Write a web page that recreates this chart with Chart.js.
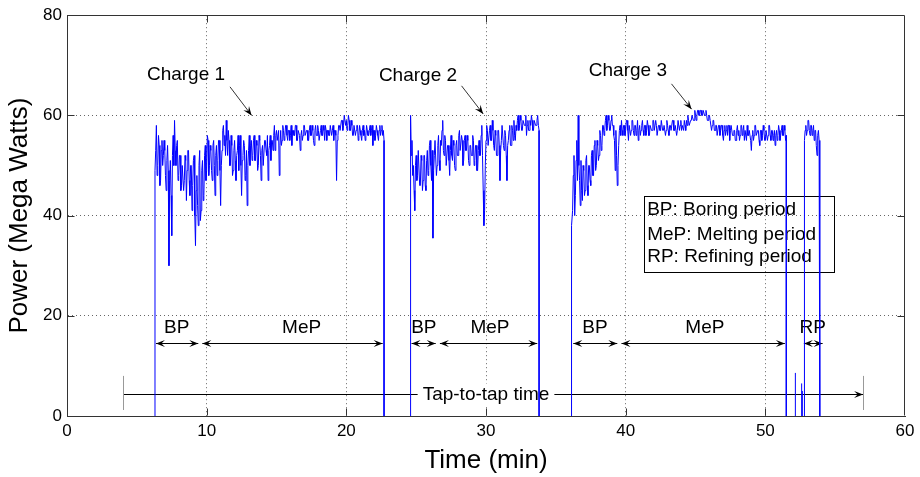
<!DOCTYPE html>
<html>
<head>
<meta charset="utf-8">
<script src="https://cdn.jsdelivr.net/npm/chart.js@4"></script>
<style>
  body { margin: 0; background: #fff; }
  #wrap { width: 920px; height: 477px; }
</style>
</head>
<body>
<div id="wrap"><canvas id="chart"></canvas></div>
<script>
const sampleStep = 0.05;

const charge1Start = 6.3;
const charge1Power = [
  49, 53, 58, 48, 50, 56, 54, 46, 47, 53, 55, 50, 52, 55, 53, 48, 45, 51, 54, 49,
  30, 47, 51, 44, 36, 52, 56, 50, 59, 53, 50, 54, 55, 47, 48, 52, 52, 45, 46, 50,
  50, 45, 47, 52, 51, 43, 49, 53, 53, 47, 44, 50, 50, 41, 46, 51, 52, 40, 34, 45,
  48, 42, 38, 50, 53, 39, 41, 49, 51, 43, 44, 52, 54, 47, 49, 56, 55, 48, 50, 54,
  53, 49, 47, 54, 55, 50, 44, 52, 54, 48, 51, 55, 55, 49, 42, 50, 53, 57, 58, 54,
  56, 52, 59, 55, 52, 57, 55, 50, 50, 56, 54, 48, 49, 53, 55, 51, 47, 52, 53, 56,
  49, 54, 56, 50, 44, 51, 52, 55, 54, 47, 48, 53, 42, 50, 53, 56, 50, 54, 55, 51,
  52, 55, 56, 51, 51, 55, 54, 49, 50, 56, 55, 52, 47, 53, 54, 50, 50, 55, 55, 53,
  52, 56, 47, 53, 54, 56, 51, 55, 55, 53, 56, 58, 53, 56, 57, 55, 55, 57, 48, 54,
  57, 54, 55, 58, 57, 55, 56, 58, 58, 56, 55, 57, 57, 55, 56, 58, 54, 57, 57, 56,
  56, 58, 58, 55, 55, 57, 57, 56, 53, 56, 57, 55, 56, 58, 58, 56, 56, 57, 57, 55,
  55, 57, 58, 56, 56, 58, 57, 55, 54, 57, 58, 56, 56, 58, 57, 55, 55, 57, 58, 56,
  56, 58, 57, 55, 58, 57, 55, 57, 57, 56, 56, 58, 58, 56, 57, 58, 55, 57, 57, 56,
  47, 55, 56, 58, 58, 57, 57, 59, 59, 57, 58, 60, 60, 58, 59, 57, 58, 60, 59, 57,
  57, 59, 58, 56, 56, 58, 58, 56, 57, 58, 58, 55, 56, 58, 57, 56, 55, 57, 58, 56,
  57, 55, 56, 58, 57, 56, 56, 57, 58, 56, 57, 58, 54, 57, 57, 55, 56, 58, 57, 56,
  55, 57, 58, 56, 57, 58, 56, 57, 55,
];

const charge2Start = 24.6;
const charge2Power = [
  60, 52, 55, 48, 50, 45, 41, 50, 52, 47, 48, 53, 53, 46, 46, 52, 51, 45, 47, 52,
  52, 46, 45, 51, 53, 48, 49, 54, 55, 50, 47, 53, 35.5, 49, 52, 55, 55, 48, 50, 54,
  56, 51, 49, 55, 54, 57, 59, 53, 52, 56, 55, 50, 50, 54, 54, 51, 48, 53, 56, 52,
  51, 55, 54, 50, 49, 54, 55, 52, 52, 56, 57, 53, 53, 56, 55, 50, 51, 55, 56, 53,
  53, 56, 55, 51, 50, 54, 54, 52, 52, 56, 55, 50, 51, 54, 54, 49, 49, 53, 55, 52,
  52, 56, 58, 52, 45, 38, 41, 50, 55, 58, 57, 54, 54, 57, 58, 55, 55, 59, 57, 54,
  53, 57, 56, 52, 52, 57, 57, 54, 47, 53, 55, 58, 58, 54, 53, 57, 56, 52, 47, 54,
  55, 57, 58, 54, 54, 58, 57, 55, 59, 56, 55, 58, 57, 59, 60, 57, 58, 60, 59, 57,
  57, 59, 59, 58, 58, 60, 56, 58, 59, 57, 57, 59, 58, 60, 59, 57, 57, 59, 59, 58,
  58, 59, 60, 58, 57,
];

const charge3Start = 36.1;
const charge3Power = [
  29, 38, 41, 48, 52, 40, 44, 51, 55, 47, 60, 50, 47, 42, 51, 45, 43, 50, 49, 44,
  45, 51, 52, 46, 44, 50, 50, 47, 46, 52, 53, 48, 48, 54, 55, 49, 50, 55, 54, 51,
  52, 57, 56, 53, 54, 58, 58, 56, 57, 59, 60, 57, 58, 60, 59, 57, 57, 59, 60, 58,
  58, 56, 55, 49, 57, 52, 46, 50, 54, 57, 58, 56, 59, 57, 56, 58, 58, 56, 57, 59,
  59, 57, 55, 58, 58, 56, 57, 59, 59, 57, 56, 58, 58, 56, 57, 59, 55, 57, 58, 56,
  57, 58, 59, 57, 56, 58, 58, 56, 57, 59, 58, 56, 56, 58, 58, 57, 57, 59, 59, 57,
  57, 59, 58, 56, 56, 58, 58, 57, 57, 59, 59, 57, 57, 58, 58, 56, 57, 59, 58, 57,
  56, 58, 58, 57, 57, 59, 59, 57, 57, 58, 58, 56, 57, 59, 59, 57, 58, 59, 57, 58,
  58, 57, 59, 58, 57, 59, 58, 60, 59, 58, 58, 59, 59, 60, 60, 59, 59, 61, 60, 59,
  60, 61, 61, 60, 60, 61, 61, 60, 60, 61, 61, 60, 60, 61, 60, 59, 59, 60, 60, 59,
  59, 57, 58, 59, 59, 57, 57, 58, 58, 56, 56, 58, 58, 56, 57, 58, 58, 56, 55, 57,
  58, 56, 57, 58, 56, 58, 58, 55, 57, 58, 58, 56, 56, 57, 57, 55, 55, 57, 58, 56,
  57, 55, 56, 58, 58, 56, 57, 58, 55, 57, 57, 55, 58, 56, 56, 57, 57, 55, 53, 56,
  57, 55, 56, 58, 58, 56, 56, 57, 57, 55, 54, 57, 57, 55, 56, 58, 57, 55, 55, 57,
  57, 55, 56, 58, 58, 56, 55, 57, 57, 55, 56, 57, 54, 56, 57, 55, 56, 58, 57, 55,
  56, 57, 58, 56, 56, 58, 57, 55, 56,
];

const charge4Start = 52.8;
const charge4Power = [
  55, 57, 58, 56, 57, 59, 59, 57, 56, 58, 58, 56, 57, 58, 55, 57, 57, 54, 52, 56,
  57, 55, 54,
];

const spikeTimes = [52.15, 52.6, 52.65];
const spikePower = [8.6, 6.5, 5];

const xTicks = [0, 10, 20, 30, 40, 50, 60];
const yTicks = [0, 20, 40, 60, 80];

const chargeLabels = ['Charge 1', 'Charge 2', 'Charge 3'];
const chargeLabelX = [8.52, 25.13, 40.16];
const chargeLabelY = [68.1, 67.9, 68.85];
const chargeArrowFrom = [[11.67, 65.7], [28.25, 65.9], [43.28, 66.3]];
const chargeArrowTo = [[13.22, 60], [29.8, 60.3], [44.72, 61.25]];

const periodLabels = ['BP', 'MeP', 'BP', 'MeP', 'BP', 'MeP', 'RP'];
const periodStart = [6.37, 9.69, 24.67, 26.7, 36.25, 39.7, 52.76];
const periodEnd = [9.4, 22.6, 26.4, 33.67, 39.4, 51.4, 54.1];
const periodLabelX = [7.85, 16.8, 25.55, 30.28, 37.8, 45.67, 53.4];
const periodArrowY = 14.6;
const periodLabelY = 17.7;

const tapLabel = 'Tap-to-tap time';
const tapStart = 4.03;
const tapEnd = 57.0;
const tapY = 4.3;
const tapLabelX = 30.0;
const tapBarLow = 1.2;
const tapBarHigh = 8.0;

const legendLines = ['BP: Boring period', 'MeP: Melting period', 'RP: Refining period'];
const legendLeft = 41.3;
const legendRight = 54.9;
const legendTop = 43.96;
const legendBottom = 28.7;
const legendTextX = 41.54;
const legendTextY = [41.1, 36.2, 31.7];

const FONT = '"Liberation Sans", Arial, Helvetica, sans-serif';

const segment = (start, values) => [
  { x: start, y: 0 },
  ...values.map((v, i) => ({ x: +(start + i * sampleStep).toFixed(2), y: v })),
  { x: +(start + (values.length - 1) * sampleStep).toFixed(2), y: 0 },
  { x: start, y: null },
];

const spikes = spikeTimes.flatMap((t, i) => [
  { x: t, y: 0 },
  { x: t, y: spikePower[i] },
  { x: t, y: null },
]);

const powerData = [
  ...segment(charge1Start, charge1Power),
  ...segment(charge2Start, charge2Power),
  ...segment(charge3Start, charge3Power),
  ...spikes,
  ...segment(charge4Start, charge4Power),
];

const arrowHead = (ctx, x0, y0, x1, y1) => {
  const a = Math.atan2(y1 - y0, x1 - x0);
  const len = 9;
  const half = 3.5;
  const bx = x1 - len * Math.cos(a);
  const by = y1 - len * Math.sin(a);
  ctx.beginPath();
  ctx.moveTo(x1, y1);
  ctx.lineTo(bx + half * Math.sin(a), by - half * Math.cos(a));
  ctx.lineTo(x1 - 0.6 * len * Math.cos(a), y1 - 0.6 * len * Math.sin(a));
  ctx.lineTo(bx - half * Math.sin(a), by + half * Math.cos(a));
  ctx.closePath();
  ctx.fill();
};

const line = (ctx, x0, y0, x1, y1) => {
  ctx.beginPath();
  ctx.moveTo(x0, y0);
  ctx.lineTo(x1, y1);
  ctx.stroke();
};

const annotations = {
  id: 'annotations',
  beforeDatasetsDraw(chart) {
    const { ctx } = chart;
    const px = (t) => chart.scales.x.getPixelForValue(t);
    const py = (p) => chart.scales.y.getPixelForValue(p);
    ctx.save();
    ctx.strokeStyle = '#000';
    ctx.fillStyle = '#000';
    ctx.lineWidth = 1;
    ctx.font = `19px ${FONT}`;
    ctx.textBaseline = 'middle';

    ctx.textAlign = 'center';
    chargeLabels.forEach((label, i) => {
      ctx.fillText(label, px(chargeLabelX[i]), py(chargeLabelY[i]));
      const [x0, y0] = [px(chargeArrowFrom[i][0]), py(chargeArrowFrom[i][1])];
      const [x1, y1] = [px(chargeArrowTo[i][0]), py(chargeArrowTo[i][1])];
      ctx.strokeStyle = '#333';
      line(ctx, x0, y0, x1, y1);
      arrowHead(ctx, x0, y0, x1, y1);
    });

    ctx.strokeStyle = '#000';
    const ay = Math.round(py(periodArrowY)) + 0.5;
    periodLabels.forEach((label, i) => {
      const x0 = px(periodStart[i]);
      const x1 = px(periodEnd[i]);
      line(ctx, x0, ay, x1, ay);
      arrowHead(ctx, x0, ay, x1, ay);
      arrowHead(ctx, x1, ay, x0, ay);
      ctx.fillText(label, px(periodLabelX[i]), py(periodLabelY));
    });

    const ty = Math.round(py(tapY)) + 0.5;
    const tx0 = px(tapStart);
    const tx1 = px(tapEnd);
    line(ctx, tx0, ty, tx1, ty);
    arrowHead(ctx, tx0, ty, tx1, ty);
    const tw = ctx.measureText(tapLabel).width;
    const tc = px(tapLabelX);
    ctx.fillStyle = '#fff';
    ctx.fillRect(tc - tw / 2 - 5, ty - 11, tw + 10, 22);
    ctx.fillStyle = '#000';
    ctx.fillText(tapLabel, tc, ty);
    ctx.strokeStyle = '#999';
    [tx0, tx1].forEach((x) => line(ctx, Math.round(x) + 0.5, py(tapBarLow), Math.round(x) + 0.5, py(tapBarHigh)));

    ctx.strokeStyle = '#000';
    const lx0 = Math.round(px(legendLeft)) + 0.5;
    const ly0 = Math.round(py(legendTop)) + 0.5;
    const lx1 = Math.round(px(legendRight)) + 0.5;
    const ly1 = Math.round(py(legendBottom)) + 0.5;
    ctx.strokeRect(lx0, ly0, lx1 - lx0, ly1 - ly0);
    ctx.textAlign = 'left';
    legendLines.forEach((text, i) => ctx.fillText(text, px(legendTextX), py(legendTextY[i])));
    ctx.restore();
  },
  afterDatasetsDraw(chart) {
    const { ctx, chartArea: a } = chart;
    const px = (t) => chart.scales.x.getPixelForValue(t);
    const py = (p) => chart.scales.y.getPixelForValue(p);
    ctx.save();
    ctx.strokeStyle = '#333';
    ctx.lineWidth = 1;
    const l = Math.round(a.left) + 0.5;
    const r = Math.round(a.right) - 0.5;
    const t = Math.round(a.top) + 0.5;
    const b = Math.round(a.bottom) - 0.5;
    line(ctx, l, t, r, t);
    line(ctx, r, t, r, b);
    const tick = 7;
    xTicks.slice(1, -1).forEach((v) => {
      const x = Math.round(px(v)) + 0.5;
      line(ctx, x, b, x, b - tick);
      line(ctx, x, t, x, t + tick);
    });
    yTicks.slice(1, -1).forEach((v) => {
      const y = Math.round(py(v)) + 0.5;
      line(ctx, l, y, l + tick, y);
      line(ctx, r, y, r - tick, y);
    });
    ctx.restore();
  },
};

const gridColor = (max) => (c) =>
  c.tick && (c.tick.value === 0 || c.tick.value === max) ? 'rgba(0,0,0,0)' : '#666';

new Chart(document.getElementById('chart'), {
  type: 'line',
  data: {
    datasets: [
      {
        data: powerData,
        borderColor: '#0000ff',
        borderWidth: 1,
        pointRadius: 0,
        tension: 0,
        spanGaps: false,
      },
    ],
  },
  options: {
    responsive: true,
    maintainAspectRatio: false,
    animation: false,
    devicePixelRatio: 1,
    layout: { padding: { top: 12, right: 15, bottom: 0, left: 0 } },
    plugins: { legend: { display: false }, tooltip: { enabled: false } },
    scales: {
      x: {
        type: 'linear',
        min: 0,
        max: 60,
        afterFit: (s) => { s.height = 61; },
        afterBuildTicks: (s) => { s.ticks = xTicks.map((value) => ({ value })); },
        ticks: { color: '#000', font: { family: FONT, size: 17 }, padding: 5, maxRotation: 0 },
        grid: { drawTicks: false, color: gridColor(60) },
        border: { display: true, color: '#333', dash: [1, 3] },
        title: { display: true, text: 'Time (min)', color: '#000', font: { family: FONT, size: 26 }, padding: { top: 0, bottom: 1 } },
      },
      y: {
        min: 0,
        max: 80,
        afterFit: (s) => { s.width = 67; },
        afterBuildTicks: (s) => { s.ticks = yTicks.map((value) => ({ value })); },
        ticks: { color: '#000', font: { family: FONT, size: 17 }, padding: 5 },
        grid: { drawTicks: false, color: gridColor(80) },
        border: { display: true, color: '#333', dash: [1, 3] },
        title: { display: true, text: 'Power (Mega Watts)', color: '#000', font: { family: FONT, size: 26 }, padding: { top: 4, bottom: 0 } },
      },
    },
  },
  plugins: [annotations],
});
</script>
</body>
</html>
